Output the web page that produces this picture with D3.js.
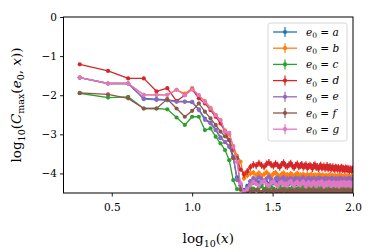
<!DOCTYPE html>
<html><head><meta charset="utf-8">
<script src="https://cdn.jsdelivr.net/npm/d3@7/dist/d3.min.js"></script>
<style>body{margin:0;background:#fff}svg{display:block}</style>
</head><body><svg id="c" width="374" height="252"></svg>
<script>
// n = 2..100, x = log10(n)
const nValues = d3.range(2, 101);
const labels = ["a","b","c","d","e","f","g"];
const colors = ["#1f77b4","#ff7f0e","#2ca02c","#d62728","#9467bd","#8c564b","#e377c2"];
const xTicks = [0.5, 1.0, 1.5, 2.0];
const yTicks = [0, -1, -2, -3, -4];
const errTail = [0.05, 0.07, 0.04, 0.09, 0.06, 0.03, 0.06];

const seriesA = [-1.55,-1.70,-1.70,-2.08,-2.10,-2.12,-2.15,-2.16,-2.18,-2.36,-2.60,-2.70,-2.88,-3.08,-3.20,-3.32,-3.58,-4.10,-4.30,
-4.42,-4.32,-4.20,-4.24,-4.17,-4.23,-4.28,-4.19,-4.22,-4.27,
-4.20,-4.25,-4.18,-4.24,-4.29,-4.21,-4.26,-4.19,-4.23,-4.27,
-4.21,-4.25,-4.22,-4.28,-4.20,-4.26,-4.19,-4.24,-4.28,-4.22,
-4.25,-4.19,-4.23,-4.27,-4.21,-4.26,-4.20,-4.24,-4.29,-4.22,
-4.26,-4.20,-4.24,-4.28,-4.22,-4.25,-4.19,-4.23,-4.27,-4.21,
-4.25,-4.29,-4.22,-4.26,-4.20,-4.24,-4.28,-4.23,-4.26,-4.21,
-4.24,-4.28,-4.22,-4.26,-4.21,-4.25,-4.29,-4.23,-4.27,-4.22,
-4.26,-4.20,-4.24,-4.28,-4.23,-4.27,-4.21,-4.25,-4.29,-4.24];
const seriesB = [-1.55,-1.70,-1.70,-1.99,-1.99,-1.99,-1.86,-1.96,-1.82,-2.02,-2.15,-2.32,-2.50,-2.65,-2.90,-3.00,-3.30,-3.55,-3.70,
-4.12,-4.05,-4.00,-3.98,-4.04,-3.99,-4.06,-4.02,-3.97,-4.03,
-4.07,-4.01,-3.98,-4.04,-4.08,-4.02,-3.99,-4.05,-4.03,-4.07,
-4.01,-4.04,-4.09,-4.03,-4.00,-4.06,-4.04,-4.08,-4.02,-4.05,
-4.07,-4.03,-4.09,-4.05,-4.02,-4.08,-4.06,-4.04,-4.10,-4.05,
-4.07,-4.03,-4.09,-4.06,-4.04,-4.10,-4.07,-4.05,-4.11,-4.06,
-4.08,-4.04,-4.10,-4.07,-4.05,-4.11,-4.08,-4.06,-4.12,-4.07,
-4.09,-4.05,-4.11,-4.08,-4.06,-4.12,-4.09,-4.07,-4.10,-4.08,
-4.11,-4.07,-4.12,-4.09,-4.08,-4.13,-4.10,-4.08,-4.12,-4.10];
const seriesC = [-1.95,-2.06,-2.04,-2.34,-2.34,-2.36,-2.57,-2.76,-2.55,-2.55,-2.89,-2.85,-3.06,-3.23,-3.40,-3.66,-4.17,-4.40,-4.42,
-4.45,-4.40,-4.35,-4.39,-4.42,-4.36,-4.33,-4.40,-4.37,-4.41,
-4.35,-4.39,-4.43,-4.37,-4.34,-4.40,-4.38,-4.42,-4.36,-4.39,
-4.41,-4.36,-4.34,-4.39,-4.43,-4.37,-4.40,-4.35,-4.38,-4.42,
-4.37,-4.40,-4.36,-4.41,-4.38,-4.34,-4.39,-4.43,-4.37,-4.40,
-4.36,-4.41,-4.38,-4.35,-4.40,-4.42,-4.37,-4.39,-4.36,-4.41,
-4.38,-4.35,-4.40,-4.43,-4.37,-4.39,-4.36,-4.41,-4.38,-4.40,
-4.42,-4.37,-4.39,-4.36,-4.41,-4.38,-4.43,-4.37,-4.40,-4.39,
-4.36,-4.40,-4.38,-4.42,-4.37,-4.39,-4.41,-4.38,-4.40,-4.39];
const seriesD = [-1.21,-1.38,-1.57,-1.57,-1.90,-1.82,-2.15,-2.00,-1.85,-2.08,-2.21,-2.38,-2.55,-2.72,-2.93,-3.15,-3.40,-3.61,-3.90,
-4.02,-3.95,-3.84,-3.78,-3.80,-3.74,-3.79,-3.83,-3.76,-3.72,
-3.78,-3.81,-3.75,-3.79,-3.84,-3.77,-3.73,-3.80,-3.82,-3.78,
-3.74,-3.81,-3.85,-3.79,-3.76,-3.83,-3.80,-3.77,-3.84,-3.81,
-3.78,-3.86,-3.82,-3.79,-3.83,-3.87,-3.80,-3.78,-3.85,-3.82,
-3.88,-3.83,-3.79,-3.86,-3.84,-3.81,-3.87,-3.85,-3.80,-3.88,
-3.84,-3.82,-3.89,-3.86,-3.83,-3.87,-3.90,-3.84,-3.86,-3.89,
-3.85,-3.88,-3.91,-3.86,-3.84,-3.90,-3.87,-3.89,-3.92,-3.86,
-3.88,-3.91,-3.87,-3.90,-3.93,-3.88,-3.90,-3.92,-3.89,-3.91];
const seriesE = [-1.55,-1.70,-1.70,-2.10,-2.12,-2.13,-2.17,-2.17,-2.17,-2.38,-2.63,-2.72,-2.89,-3.10,-3.19,-3.30,-3.57,-4.17,-4.30,
-4.46,-4.38,-4.20,-4.12,-4.16,-4.10,-4.14,-4.19,-4.13,-4.09,
-4.15,-4.20,-4.13,-4.11,-4.17,-4.14,-4.10,-4.18,-4.13,-4.16,
-4.12,-4.19,-4.15,-4.11,-4.17,-4.13,-4.20,-4.14,-4.10,-4.16,
-4.19,-4.13,-4.11,-4.17,-4.14,-4.20,-4.12,-4.16,-4.18,-4.13,
-4.15,-4.11,-4.18,-4.14,-4.20,-4.16,-4.12,-4.19,-4.15,-4.13,
-4.17,-4.21,-4.14,-4.12,-4.18,-4.15,-4.20,-4.13,-4.17,-4.14,
-4.19,-4.15,-4.12,-4.18,-4.21,-4.14,-4.16,-4.20,-4.13,-4.17,
-4.15,-4.19,-4.14,-4.18,-4.12,-4.16,-4.20,-4.15,-4.18,-4.16];
const seriesF = [-1.94,-1.98,-2.08,-2.34,-2.34,-2.10,-2.34,-2.55,-2.40,-2.21,-2.42,-2.59,-2.76,-2.93,-3.05,-3.15,-3.61,-3.61,-4.40,
-4.50,-4.46,-4.44,-4.47,-4.42,-4.45,-4.48,-4.43,-4.46,-4.44,
-4.47,-4.43,-4.45,-4.48,-4.44,-4.46,-4.42,-4.45,-4.47,-4.44,
-4.46,-4.43,-4.47,-4.45,-4.42,-4.46,-4.48,-4.44,-4.45,-4.43,
-4.46,-4.44,-4.47,-4.43,-4.45,-4.48,-4.44,-4.46,-4.43,-4.45,
-4.47,-4.44,-4.46,-4.43,-4.45,-4.47,-4.44,-4.46,-4.48,-4.45,
-4.43,-4.46,-4.44,-4.47,-4.45,-4.43,-4.46,-4.48,-4.44,-4.45,
-4.47,-4.44,-4.46,-4.43,-4.45,-4.47,-4.44,-4.46,-4.45,-4.43,
-4.46,-4.44,-4.47,-4.45,-4.43,-4.46,-4.44,-4.47,-4.45,-4.46];
const seriesG = [-1.55,-1.70,-1.70,-1.99,-1.99,-1.99,-1.86,-2.00,-1.85,-2.00,-2.17,-2.34,-2.51,-2.63,-2.93,-2.96,-3.32,-3.71,-4.25,
-4.48,-4.40,-4.30,-4.22,-4.27,-4.31,-4.23,-4.20,-4.28,-4.32,
-4.24,-4.21,-4.27,-4.33,-4.25,-4.22,-4.29,-4.26,-4.31,-4.23,
-4.20,-4.27,-4.32,-4.25,-4.22,-4.28,-4.30,-4.24,-4.21,-4.27,
-4.33,-4.26,-4.23,-4.29,-4.31,-4.25,-4.22,-4.28,-4.32,-4.26,
-4.23,-4.29,-4.25,-4.21,-4.28,-4.33,-4.26,-4.24,-4.30,-4.27,
-4.22,-4.28,-4.32,-4.25,-4.29,-4.23,-4.27,-4.31,-4.26,-4.24,
-4.29,-4.33,-4.27,-4.23,-4.28,-4.30,-4.25,-4.22,-4.29,-4.31,
-4.26,-4.24,-4.30,-4.27,-4.23,-4.29,-4.32,-4.26,-4.28,-4.25];
const allSeries = [seriesA, seriesB, seriesC, seriesD, seriesE, seriesF, seriesG];

const FONT = "DejaVu Serif";
const svg = d3.select("#c");
const L = 63.5, R = 353, T = 17, B = 193;
const x = d3.scaleLinear().domain([0.2, 2.0]).range([L, R]);
const y = d3.scaleLinear().domain([-4.5, 0]).range([B, T]);

svg.append("defs").append("clipPath").attr("id","clip")
  .append("rect").attr("x",L).attr("y",T).attr("width",R-L).attr("height",B-T);

const plot = svg.append("g").attr("clip-path","url(#clip)");
const line = d3.line().x(d=>x(d.x)).y(d=>y(d.y));

allSeries.forEach((vals, si) => {
  const pts = vals.map((v,i)=>({x: Math.log10(nValues[i]), y: v, e: nValues[i] > 20 ? errTail[si] : 0.015}));
  const g = plot.append("g");
  g.selectAll("line.err").data(pts).join("line")
    .attr("x1",d=>x(d.x)).attr("x2",d=>x(d.x))
    .attr("y1",d=>y(d.y - d.e)).attr("y2",d=>y(d.y + d.e))
    .attr("stroke",colors[si]).attr("stroke-width",1.2);
  g.append("path").datum(pts).attr("d",line).attr("fill","none")
    .attr("stroke",colors[si]).attr("stroke-width",1.3).attr("stroke-linejoin","round");
  g.selectAll("circle").data(pts).join("circle")
    .attr("cx",d=>x(d.x)).attr("cy",d=>y(d.y)).attr("r",2.1).attr("fill",colors[si]);
});

// frame
svg.append("rect").attr("x",L).attr("y",T).attr("width",R-L).attr("height",B-T)
  .attr("fill","none").attr("stroke","#000").attr("stroke-width",1);

// axes
const xa = svg.append("g").attr("transform",`translate(0,${B})`)
  .call(d3.axisBottom(x).tickValues(xTicks).tickFormat(d3.format(".1f")).tickSize(3.5).tickSizeOuter(0));
const ya = svg.append("g").attr("transform",`translate(${L},0)`)
  .call(d3.axisLeft(y).tickValues(yTicks).tickFormat(d=>d<0?"\u2212"+Math.abs(d):d).tickSize(3.5).tickSizeOuter(0));
[xa, ya].forEach(a=>{
  a.select(".domain").remove();
  a.attr("font-family", FONT).attr("font-size", 10.5);
  a.selectAll("text").attr("fill","#000");
  a.selectAll("line").attr("stroke","#000").attr("stroke-width",0.9);
});
xa.selectAll("text").attr("dy","1.05em");
ya.selectAll("text").attr("x",-6.5);

// x label
const xl = svg.append("text").attr("x",(L+R)/2).attr("y",243).attr("text-anchor","middle").attr("font-size",13.5);
xl.append("tspan").text("log");
xl.append("tspan").text("10").attr("dy",4).attr("font-size",9.5);
xl.append("tspan").text("(").attr("dy",-4);
xl.append("tspan").text("x").attr("font-style","italic");
xl.append("tspan").text(")");

// y label
const yl = svg.append("text").attr("transform",`translate(21,${(T+B)/2}) rotate(-90)`).attr("text-anchor","middle").attr("font-size",13.5);
yl.append("tspan").text("log");
yl.append("tspan").text("10").attr("dy",4).attr("font-size",9.5);
yl.append("tspan").text("(").attr("dy",-4);
yl.append("tspan").text("C").attr("font-style","italic");
yl.append("tspan").text("max").attr("dy",3).attr("font-size",9.5);
yl.append("tspan").text("(").attr("dy",-3);
yl.append("tspan").text("e").attr("font-style","italic");
yl.append("tspan").text("0").attr("dy",3).attr("font-size",9.5);
yl.append("tspan").text(", ").attr("dy",-3);
yl.append("tspan").text("x").attr("font-style","italic");
yl.append("tspan").text("))");

// legend
const lg = svg.append("g");
lg.append("rect").attr("x",268).attr("y",23).attr("width",79).attr("height",118).attr("rx",2.5)
  .attr("fill","#fff").attr("fill-opacity",0.8).attr("stroke","#ccc").attr("stroke-width",0.8);
labels.forEach((lab,i)=>{
  const cy = 32 + i*16.2;
  lg.append("line").attr("x1",273).attr("x2",297).attr("y1",cy).attr("y2",cy).attr("stroke",colors[i]).attr("stroke-width",1.3);
  lg.append("line").attr("x1",285).attr("x2",285).attr("y1",cy-5).attr("y2",cy+5).attr("stroke",colors[i]).attr("stroke-width",1.2);
  lg.append("circle").attr("cx",285).attr("cy",cy).attr("r",2.1).attr("fill",colors[i]);
  const t = lg.append("text").attr("x",306).attr("y",cy+3.5).attr("font-size",10.5);
  t.append("tspan").text("e").attr("font-style","italic");
  t.append("tspan").text("0").attr("dy",2.5).attr("font-size",7.5);
  t.append("tspan").text(" = ").attr("dy",-2.5);
  t.append("tspan").text(lab).attr("font-style","italic");
});
svg.selectAll("text").attr("font-family", FONT).attr("fill","#000");
</script></body></html>
